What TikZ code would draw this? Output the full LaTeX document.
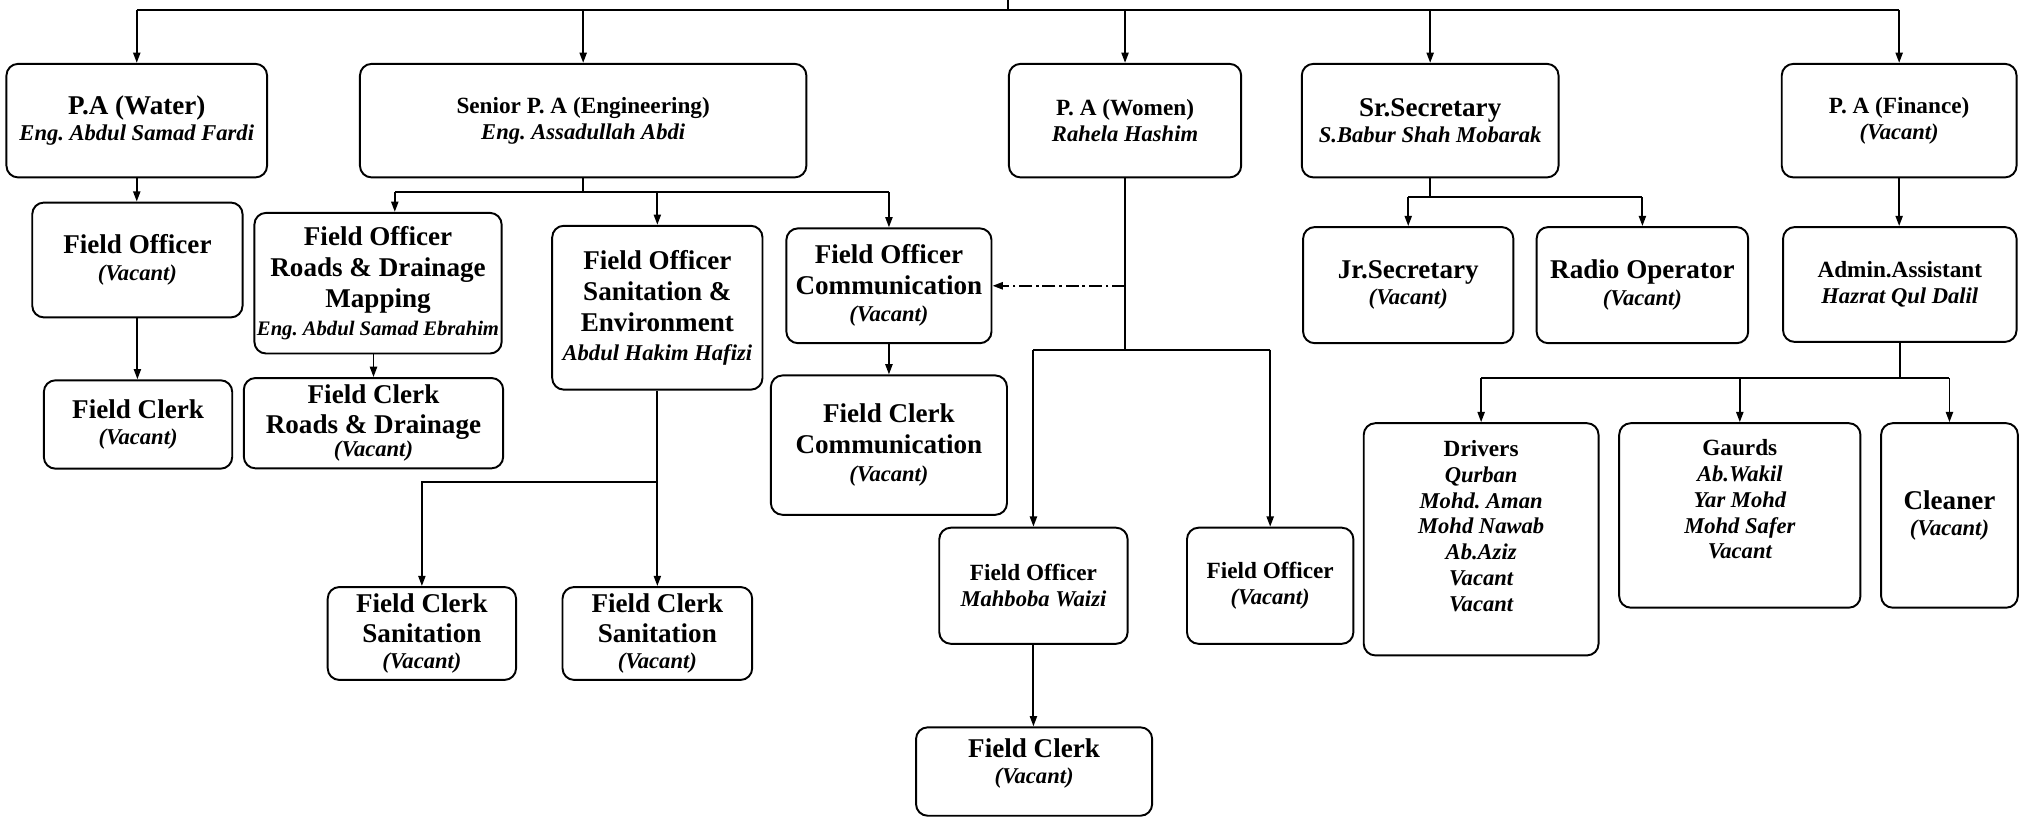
\documentclass[tikz,border=0pt]{standalone}
\usepackage{fontspec}
\setmainfont{Liberation Serif}
\usetikzlibrary{arrows.meta,calc}
\frenchspacing

% type sizes used in the chart
\newcommand\bigtitle{\fontsize{21}{24}\selectfont\bfseries}
\newcommand\smalltitle{\fontsize{18}{20}\selectfont\bfseries}
\newcommand\nm[1]{{\fontsize{17.5}{20}\selectfont\bfseries\itshape #1}}
\newcommand\smallnm[1]{{\fontsize{16}{18}\selectfont\bfseries\itshape #1}}
% invisible strut that adds depth below the last line of a box
\newcommand\padbelow[1]{\rule[-#1]{0pt}{#1}}

\tikzset{
  box/.style={draw, rounded corners=9pt, line width=1.5pt, align=center,
              inner xsep=2pt, inner ysep=1pt, font=\bigtitle},
  sm/.style={font=\smalltitle},
  link/.style={line width=1.5pt},
  arr/.style={line width=1.5pt, -{Triangle[length=8pt,width=5.5pt]}},
  dashpat/.style={dash pattern=on 10pt off 3pt on 2pt off 3pt},
}

\begin{document}
\begin{tikzpicture}[x=1pt,y=-1pt]
\useasboundingbox (0,0) rectangle (1568,633);

% ---- first level ----
\node[box, minimum width=202pt, minimum height=88pt] (water) at (106,93.5)
  {P.A (Water)\\[-3.5pt]\nm{Eng. Abdul Samad Fardi}};
\node[box, sm, minimum width=346pt, minimum height=88pt] (senior) at (452,93.5)
  {Senior P. A (Engineering)\\\nm{Eng. Assadullah Abdi}};
\node[box, sm, minimum width=180pt, minimum height=88pt] (women) at (872,93.5)
  {P. A (Women)\\\nm{Rahela Hashim}};
\node[box, minimum width=199pt, minimum height=88pt] (srsec) at (1108.5,93.5)
  {Sr.Secretary\\[-3.5pt]\nm{S.Babur Shah Mobarak}};
\node[box, sm, minimum width=182pt, minimum height=88pt] (finance) at (1472,93.5)
  {P. A (Finance)\\\nm{(Vacant)}};

% ---- water section ----
\node[box, minimum width=163pt, minimum height=89pt] (fowater) at (106.5,201.5)
  {Field Officer\\[-3.5pt]\nm{(Vacant)}};
\node[box, minimum width=146pt, minimum height=68.5pt] (fcwater) at (107,329)
  {Field Clerk\\[-3.5pt]\nm{(Vacant)}};

% ---- engineering section ----
\node[box, minimum width=190pt, minimum height=109pt] (foroads) at (293,219.5)
  {Field Officer\\Roads \& Drainage\\Mapping\\[-2pt]\smallnm{Eng. Abdul Samad Ebrahim}};
\node[box, minimum width=201pt, minimum height=70pt] (fcroads) at (289.5,328)
  {Field Clerk\\[-1pt]Roads \& Drainage\\[-6pt]\nm{(Vacant)}};
\node[box, minimum width=163pt, minimum height=127pt] (fosan) at (509.5,238.5)
  {Field Officer\\Sanitation \&\\Environment\\[-2pt]\nm{Abdul Hakim Hafizi}};
\node[box, minimum width=146pt, minimum height=72pt] (fcsan1) at (327,491)
  {Field Clerk\\[-0.5pt]Sanitation\\[-4pt]\nm{(Vacant)}};
\node[box, minimum width=147pt, minimum height=72pt] (fcsan2) at (509.5,491)
  {Field Clerk\\[-0.5pt]Sanitation\\[-4pt]\nm{(Vacant)}};
\node[box, minimum width=159pt, minimum height=89pt] (focomm) at (689,221.5)
  {Field Officer\\Communication\\[-3pt]\nm{(Vacant)}};
\node[box, minimum width=183pt, minimum height=108pt] (fccomm) at (689,345)
  {Field Clerk\\Communication\\[-2pt]\nm{(Vacant)}};

% ---- women section ----
\node[box, sm, minimum width=146pt, minimum height=90pt] (fomah) at (801,454)
  {Field Officer\\\nm{Mahboba Waizi}};
\node[box, sm, minimum width=129pt, minimum height=90pt] (fow2) at (984.5,454)
  {Field Officer\\\nm{(Vacant)}};
\node[box, minimum width=183pt, minimum height=68.5pt] (fcw) at (801.5,598)
  {Field Clerk\\[-3.5pt]\nm{(Vacant)}\padbelow{16pt}};

% ---- secretary section ----
\node[box, minimum width=163pt, minimum height=90pt] (jrsec) at (1091.5,221)
  {Jr.Secretary\\[-3.5pt]\nm{(Vacant)}};
\node[box, minimum width=164pt, minimum height=90pt] (radio) at (1273,221)
  {Radio Operator\\[-3.5pt]\nm{(Vacant)}};

% ---- finance section ----
\node[box, sm, minimum width=181pt, minimum height=89pt] (admin) at (1472.5,220.5)
  {Admin.Assistant\\\nm{Hazrat Qul Dalil}};
\node[box, sm, minimum width=182pt, minimum height=180pt] (drivers) at (1148,418)
  {Drivers\\\nm{Qurban}\\\nm{Mohd. Aman}\\\nm{Mohd Nawab}\\\nm{Ab.Aziz}\\\nm{Vacant}\\\nm{Vacant}\padbelow{21pt}};
\node[box, sm, minimum width=187pt, minimum height=143pt] (guards) at (1348.5,399.5)
  {Gaurds\\\nm{Ab.Wakil}\\\nm{Yar Mohd}\\\nm{Mohd Safer}\\\nm{Vacant}\padbelow{25pt}};
\node[box, minimum width=106pt, minimum height=143pt] (cleaner) at (1511,399.5)
  {Cleaner\\[-3.5pt]\nm{(Vacant)}};

% ---- top distribution bar ----
\coordinate (top) at (781,0);
\coordinate (bar) at (781,8);
\draw[link] (top) -- (bar);
\draw[link] (bar -| water.north) -- (bar -| finance.north);
\foreach \n in {water,senior,women,srsec,finance}
  \draw[arr] (bar -| \n.north) -- (\n.north);

% water chain
\draw[arr] (water.south) -- (water.south |- fowater.north);
\draw[arr] (fowater.south) -- (fowater.south |- fcwater.north);

% engineering branches
\coordinate (sbar) at (452,149);
\coordinate (rdin) at ([xshift=13pt]foroads.north);
\draw[link] (senior.south) -- (sbar);
\draw[link] (sbar -| rdin) -- (sbar -| focomm.north);
\draw[arr] (sbar -| rdin) -- (rdin);
\draw[arr] (sbar -| fosan.north) -- (fosan.north);
\draw[arr] (sbar -| focomm.north) -- (focomm.north);
\draw[arr] (fcroads.north |- foroads.south) -- (fcroads.north);
\coordinate (sanbar) at (509.5,373.5);
\draw[arr] (fosan.south) -- (fcsan2.north);
\draw[arr] (sanbar) -| (fcsan1.north);
\draw[arr] (focomm.south) -- (focomm.south |- fccomm.north);

% women branches
\coordinate (wbar) at (872,271);
\draw[link] (women.south) -- (wbar);
\draw[arr, dashpat] (focomm.east -| women.south) -- (focomm.east);
\draw[link] (wbar -| fomah.north) -- (wbar -| fow2.north);
\draw[arr] (wbar -| fomah.north) -- (fomah.north);
\draw[arr] (wbar -| fow2.north) -- (fow2.north);
\draw[arr] (fomah.south) -- (fomah.south |- fcw.north);

% secretary branches
\coordinate (sbar2) at (1108.5,152.5);
\draw[link] (srsec.south) -- (sbar2);
\draw[link] (sbar2 -| jrsec.north) -- (sbar2 -| radio.north);
\draw[arr] (sbar2 -| jrsec.north) -- (jrsec.north);
\draw[arr] (sbar2 -| radio.north) -- (radio.north);

% finance branches
\draw[arr] (finance.south) -- (finance.south |- admin.north);
\coordinate (abar) at (1472.5,293);
\draw[link] (admin.south) -- (abar);
\draw[link] (abar -| drivers.north) -- (abar -| cleaner.north);
\foreach \n in {drivers,guards,cleaner}
  \draw[arr] (abar -| \n.north) -- (\n.north);
\end{tikzpicture}
\end{document}
